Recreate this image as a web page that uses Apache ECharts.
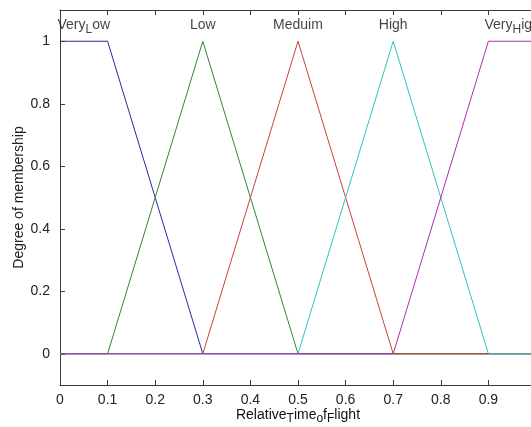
<!DOCTYPE html>
<html>
<head>
<meta charset="utf-8">
<script src="https://cdn.jsdelivr.net/npm/echarts@6/dist/echarts.min.js"></script>
<style>
  html, body { margin: 0; padding: 0; background: #fff; }
  #chart { width: 531px; height: 427px; }
</style>
</head>
<body>
<div id="chart"></div>
<script>
// membership functions, [x, degree] corner points
const veryLow = [[0, 1], [0.1, 1], [0.3, 0], [1, 0]];
const low = [[0, 0], [0.1, 0], [0.3, 1], [0.5, 0], [1, 0]];
const meduim = [[0, 0], [0.3, 0], [0.5, 1], [0.7, 0], [1, 0]];
const high = [[0, 0], [0.5, 0], [0.7, 1], [0.9, 0], [1, 0]];
const veryHigh = [[0, 0], [0.7, 0], [0.9, 1], [1, 1]];

const mfNames = ['Very_Low', 'Low', 'Meduim', 'High', 'Very_High'];
const mfLabelX = [0.05, 0.3, 0.5, 0.7, 0.95];
const mfLabelY = 1.05;

const xTicks = [0, 0.1, 0.2, 0.3, 0.4, 0.5, 0.6, 0.7, 0.8, 0.9, 1];
const yTicks = [0, 0.2, 0.4, 0.6, 0.8, 1];

const colors = ['#2a2a9e', '#2e8a2e', '#c8423a', '#30c2c2', '#b02cb2'];
const font = 'Liberation Sans, Arial, sans-serif';

// MATLAB tex style: "_X" puts X as a subscript
function tex(s) {
  const parts = s.split(/_(.)/);
  return parts.map((p, i) => p === '' ? '' : (i % 2 ? '{s|' + p + '}' : '{n|' + p + '}')).join('');
}

const rich = {
  n: { fontSize: 14, fontFamily: font, color: '#111', lineHeight: 20, verticalAlign: 'middle' },
  s: { fontSize: 12, fontFamily: font, color: '#111', lineHeight: 10, verticalAlign: 'bottom' }
};

const axisLine = { show: true, onZero: false, lineStyle: { color: '#3c3c3c', width: 1 } };
const tick = { show: true, inside: true, length: 5, lineStyle: { color: '#3c3c3c' } };

const myChart = echarts.init(document.getElementById('chart'));

const mfSeries = [veryLow, low, meduim, high, veryHigh].map((d, i) => ({
  name: mfNames[i],
  type: 'line',
  data: d,
  symbol: 'none',
  lineStyle: { color: colors[i], width: 1 },
  silent: true
}));

myChart.setOption({
  animation: false,
  grid: { left: 60, top: 10, width: 476, height: 375, outerBoundsMode: 'none', containLabel: false },
  xAxis: [{
    type: 'value',
    min: 0,
    max: 1,
    position: 'bottom',
    name: tex('Relative_Time_of_Flight'),
    nameLocation: 'middle',
    nameGap: 20,
    nameMoveOverlap: false,
    nameTextStyle: { rich: rich },
    axisLine: axisLine,
    axisTick: Object.assign({ customValues: xTicks }, tick),
    axisLabel: { customValues: xTicks, fontSize: 14, fontFamily: font, color: '#222', margin: 8 },
    splitLine: { show: false }
  }, {
    type: 'value',
    min: 0,
    max: 1,
    position: 'top',
    axisLine: axisLine,
    axisTick: Object.assign({ customValues: xTicks }, tick),
    axisLabel: { show: false },
    splitLine: { show: false }
  }],
  yAxis: [{
    type: 'value',
    min: -0.1,
    max: 1.1,
    position: 'left',
    name: 'Degree of membership',
    nameLocation: 'middle',
    nameGap: 34,
    nameMoveOverlap: false,
    nameTextStyle: { fontSize: 14, fontFamily: font, color: '#222' },
    axisLine: axisLine,
    axisTick: Object.assign({ customValues: yTicks }, tick),
    axisLabel: { customValues: yTicks, fontSize: 14, fontFamily: font, color: '#222', margin: 10 },
    splitLine: { show: false }
  }, {
    type: 'value',
    min: -0.1,
    max: 1.1,
    position: 'right',
    axisLine: axisLine,
    axisTick: Object.assign({ customValues: yTicks }, tick),
    axisLabel: { show: false },
    splitLine: { show: false }
  }],
  series: mfSeries.concat([{
    type: 'scatter',
    data: mfNames.map((n, i) => ({ name: n, value: [mfLabelX[i], mfLabelY] })),
    symbolSize: 1,
    itemStyle: { color: 'rgba(0,0,0,0)' },
    silent: true,
    label: {
      show: true,
      position: 'inside',
      formatter: (p) => tex(p.name),
      rich: rich
    }
  }])
});
</script>
</body>
</html>
